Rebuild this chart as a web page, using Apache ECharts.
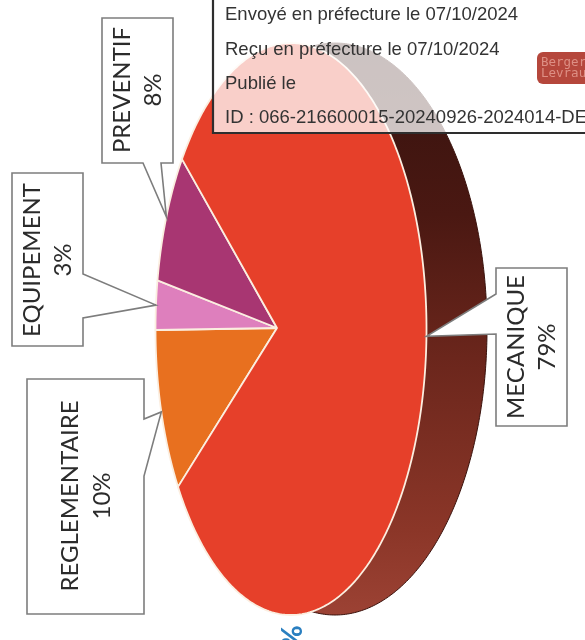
<!DOCTYPE html>
<html>
<head>
<meta charset="utf-8">
<style>html,body{margin:0;padding:0;background:#fff;overflow:hidden}#c{width:585px;height:640px}</style>
<script src="https://cdn.jsdelivr.net/npm/echarts@6/dist/echarts.min.js"></script>
</head>
<body>
<div id="c"></div>
<script>
// ---- data ----
var categories = ['REGLEMENTAIRE', 'EQUIPEMENT', 'PREVENTIF', 'MECANIQUE'];
var percents = [10, 3, 8, 79];
var stampLines = [
  'Envoyé en préfecture le 07/10/2024',
  'Reçu en préfecture le 07/10/2024',
  'Publié le',
  'ID : 066-216600015-20240926-2024014-DE'
];

// ---- styling and layout ----
var sliceColors = ['#e8701f', '#de7fbd', '#a83672', '#e6402a'];
var FACE = {cx: 291, cy: 329, rx: 135.5, ry: 286, apexX: 277, apexY: 328};
var SIDE = {cx: 335, cy: 329, rx: 152, ry: 286};
var START_DEG = 146.5, FORESHORTEN = 0.925;
var callouts = [
  {box: [27, 379, 144, 614], side: 'right', from: 419, to: 476, nameX: 70, pctX: 102, textY: 496},
  {box: [12, 173, 83, 346], side: 'right', from: 274, to: 318, nameX: 32, pctX: 63, textY: 260},
  {box: [102, 18, 173, 163], side: 'bottom', from: 143, to: 161, nameX: 122, pctX: 153, textY: 90},
  {box: [496, 268, 567, 426], side: 'left', from: 294, to: 334, nameX: 516, pctX: 547, textY: 347}
];
var CALLOUT_FONT = '24px Lato, "Noto Sans", sans-serif';

function onEllipse(e, deg) {
  var t = deg * Math.PI / 180;
  return [e.cx + e.rx * Math.cos(t), e.cy + e.ry * Math.sin(t)];
}
// slice angular spans derived from the values
var spans = [];
(function () {
  var a = START_DEG;
  for (var i = 0; i < percents.length; i++) {
    var end = i === percents.length - 1 ? START_DEG + 360 : a + percents[i] * 3.6 * FORESHORTEN;
    spans.push([a, end]);
    a = end;
  }
})();
function arcPoints(e, a, b) {
  var pts = [], n = Math.max(4, Math.ceil(Math.abs(b - a) * 1.5));
  for (var i = 0; i <= n; i++) pts.push(onEllipse(e, a + (b - a) * i / n));
  return pts;
}

function renderSide() {
  return {
    type: 'polygon',
    shape: {points: arcPoints(SIDE, 0, 360)},
    style: {
      fill: new echarts.graphic.LinearGradient(0, 0, 0, 1, [
        {offset: 0, color: '#35120e'},
        {offset: 0.3, color: '#4a1812'},
        {offset: 0.55, color: '#6b261c'},
        {offset: 0.85, color: '#8b3628'},
        {offset: 1, color: '#9c4234'}
      ]),
      stroke: '#3a120c', lineWidth: 1
    }
  };
}
function renderSlice(params, api) {
  var i = params.dataIndex, s = spans[i];
  var pts = arcPoints(FACE, s[0], s[1]);
  pts.push([FACE.apexX, FACE.apexY]);
  return {
    type: 'polygon',
    shape: {points: pts},
    style: {fill: sliceColors[i], stroke: '#fbeee0', lineWidth: 1.8, lineJoin: 'round'}
  };
}
function renderCallout(params, api) {
  var i = params.dataIndex, c = callouts[i], b = c.box, s = spans[i];
  var tip = onEllipse(FACE, (s[0] + s[1]) / 2);
  var x0 = b[0], y0 = b[1], x1 = b[2], y1 = b[3], pts;
  if (c.side === 'right') {
    pts = [[x0, y0], [x1, y0], [x1, c.from], tip, [x1, c.to], [x1, y1], [x0, y1]];
  } else if (c.side === 'left') {
    pts = [[x0, y0], [x1, y0], [x1, y1], [x0, y1], [x0, c.to], tip, [x0, c.from]];
  } else {
    pts = [[x0, y0], [x1, y0], [x1, y1], [c.to, y1], tip, [c.from, y1], [x0, y1]];
  }
  function label(text, x) {
    return {
      type: 'text', x: x, y: c.textY, rotation: Math.PI / 2,
      style: {text: text, x: 0, y: 0, align: 'center', verticalAlign: 'middle', font: CALLOUT_FONT, fill: '#2b2b2b'}
    };
  }
  return {
    type: 'group',
    children: [
      {type: 'polygon', shape: {points: pts}, style: {fill: '#fff', stroke: '#7d7d7d', lineWidth: 1.6}},
      label(categories[i], c.nameX),
      label(percents[i] + '%', c.pctX)
    ]
  };
}

var stampElements = [{
  type: 'rect', z: 100,
  shape: {x: 213, y: -6, width: 420, height: 139},
  style: {fill: 'rgba(255,255,255,0.75)', stroke: '#2e2e2e', lineWidth: 2.2}
}];
var stampYs = [15, 50, 84, 118];
stampLines.forEach(function (t, i) {
  stampElements.push({
    type: 'text', z: 101, x: 225, y: stampYs[i],
    style: {text: t, font: '18.5px "Liberation Sans", Arial, sans-serif', fill: '#333', verticalAlign: 'middle'}
  });
});

var chart = echarts.init(document.getElementById('c'), null, {renderer: 'canvas'});
chart.setOption({
  animation: false,
  backgroundColor: '#fff',
  series: [
    {type: 'custom', coordinateSystem: 'none', z: 1, silent: true, data: [1], renderItem: renderSide},
    {type: 'custom', coordinateSystem: 'none', z: 2, silent: true, data: percents, renderItem: renderSlice},
    {type: 'custom', coordinateSystem: 'none', z: 3, silent: true, data: percents, renderItem: renderCallout}
  ],
  graphic: {
    elements: stampElements.concat([
      {type: 'rect', z: 100, shape: {x: 537, y: 52, width: 70, height: 32, r: 6}, style: {fill: '#b5473c'}},
      {type: 'text', z: 101, x: 541, y: 68, style: {text: 'Berger\nLevrault', font: '12.5px "DejaVu Sans Mono", monospace', lineHeight: 10.5, fill: '#dd8f84', verticalAlign: 'middle'}},
      {type: 'text', z: 101, x: 293, y: 637, rotation: Math.PI / 2, style: {text: '%', font: 'bold 29px Lato, sans-serif', fill: '#2a7fc0', align: 'center', verticalAlign: 'middle'}}
    ])
  }
});
</script>
</body>
</html>
